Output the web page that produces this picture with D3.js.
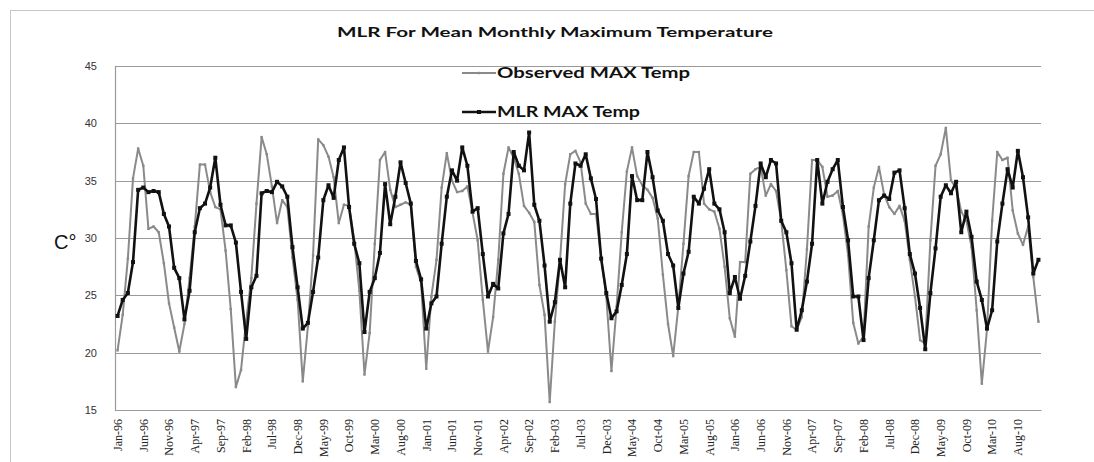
<!DOCTYPE html>
<html>
<head>
<meta charset="utf-8">
<script src="https://cdn.jsdelivr.net/npm/d3@7/dist/d3.min.js"></script>
<style>
  html, body { margin: 0; padding: 0; background: #fff; }
  svg { display: block; }
</style>
</head>
<body>
<svg id="chart" width="1094" height="462"></svg>
<script>
// Month names and two-digit years for the monthly category axis (Jan-96 .. Dec-10)
const monthNames = ["Jan","Feb","Mar","Apr","May","Jun","Jul","Aug","Sep","Oct","Nov","Dec"];
const yearCodes = ["96","97","98","99","00","01","02","03","04","05","06","07","08","09","10"];

// Observed mean monthly maximum temperature (°C)
const observedMax = [
  20.2, 23.3, 28.2, 35.2, 37.8, 36.3, 30.8, 31.0, 30.5, 27.8,
  24.3, 22.2, 20.1, 22.5, 26.5, 31.0, 36.4, 36.4, 34.0, 32.7,
  32.5, 28.9, 23.8, 17.0, 18.5, 22.8, 26.5, 33.0, 38.8, 37.3,
  34.5, 31.3, 33.3, 32.7, 28.3, 24.6, 17.5, 22.3, 28.5, 38.6,
  38.1, 37.1, 35.3, 31.3, 32.9, 32.8, 29.8, 25.4, 18.1, 21.7,
  29.5, 36.8, 37.5, 34.2, 32.7, 32.9, 33.1, 32.9, 27.5, 26.1,
  18.6, 24.9, 28.1, 34.4, 37.4, 35.0, 34.0, 34.1, 34.5, 32.2,
  29.8, 24.6, 20.1, 23.1, 28.1, 35.6, 37.9, 37.0, 35.6, 32.8,
  32.2, 31.4, 25.9, 23.3, 15.7, 22.7, 28.0, 34.7, 37.3, 37.6,
  36.6, 33.0, 32.1, 32.1, 28.3, 24.9, 18.4, 24.0, 30.5, 35.8,
  37.9, 35.4, 34.6, 34.2, 33.5, 31.7, 26.8, 22.5, 19.7, 24.0,
  29.5, 35.4, 37.5, 37.5, 33.0, 32.5, 32.3, 30.8, 27.5, 23.0,
  21.4, 27.9, 27.9, 35.6, 36.0, 36.2, 33.7, 34.7, 34.1, 31.5,
  27.2, 22.3, 22.0, 23.1, 29.0, 36.8, 36.8, 36.2, 33.6, 33.7,
  34.1, 32.0, 28.5, 22.6, 20.8, 21.4, 31.0, 34.4, 36.2, 33.8,
  32.7, 32.1, 32.8, 31.5, 28.1, 24.9, 21.1, 20.8, 29.8, 36.3,
  37.3, 39.6, 35.0, 34.4, 32.3, 31.5, 29.2, 23.7, 17.3, 22.0,
  31.5, 37.5, 36.8, 37.0, 32.4, 30.4, 29.4, 31.0, 26.6, 22.7
];

// Multiple linear regression estimate of the same quantity (°C)
const mlrMax = [
  23.2, 24.6, 25.2, 27.9, 34.2, 34.4, 34.0, 34.1, 34.0, 32.1,
  31.0, 27.4, 26.5, 22.9, 25.4, 30.5, 32.6, 33.0, 34.4, 37.0,
  32.9, 31.1, 31.1, 29.6, 25.3, 21.2, 25.7, 26.7, 33.9, 34.1,
  34.0, 34.9, 34.5, 33.6, 29.2, 25.7, 22.1, 22.6, 25.3, 28.3,
  33.3, 34.6, 33.5, 36.8, 37.9, 32.7, 29.5, 27.8, 21.8, 25.3,
  26.5, 28.7, 34.7, 31.2, 33.6, 36.6, 34.8, 33.0, 28.0, 26.4,
  22.1, 24.3, 24.9, 29.5, 33.6, 35.9, 35.0, 37.9, 36.3, 32.3,
  32.6, 28.6, 24.9, 26.0, 25.6, 30.4, 32.1, 37.5, 36.3, 35.9,
  39.2, 32.9, 31.5, 27.6, 22.7, 24.4, 28.1, 25.7, 33.0, 36.5,
  36.3, 37.3, 35.2, 33.4, 28.2, 25.2, 23.0, 23.6, 25.9, 28.6,
  35.4, 33.3, 33.3, 37.5, 35.3, 32.4, 31.5, 28.6, 27.6, 23.9,
  26.9, 28.8, 33.6, 33.0, 34.3, 36.0, 33.0, 32.5, 30.5, 25.2,
  26.6, 24.7, 26.7, 29.7, 32.8, 36.5, 35.3, 36.8, 36.5, 31.5,
  30.5, 27.8, 22.0, 23.7, 26.2, 29.5, 36.8, 33.0, 34.9, 36.0,
  36.8, 32.7, 29.8, 24.9, 24.9, 21.1, 26.5, 29.8, 33.3, 33.7,
  33.4, 35.7, 35.9, 32.6, 28.6, 26.9, 23.9, 20.3, 25.2, 29.1,
  33.6, 34.6, 33.9, 34.9, 30.5, 32.3, 30.1, 26.2, 24.6, 22.1,
  23.7, 29.7, 33.0, 36.0, 34.4, 37.6, 35.3, 31.8, 26.9, 28.1
];

// Labelled categories on the x axis (every fifth month)
const xTickLabels = [
  "Jan-96","Jun-96","Nov-96","Apr-97","Sep-97","Feb-98","Jul-98","Dec-98","May-99",
  "Oct-99","Mar-00","Aug-00","Jan-01","Jun-01","Nov-01","Apr-02","Sep-02","Feb-03",
  "Jul-03","Dec-03","May-04","Oct-04","Mar-05","Aug-05","Jan-06","Jun-06","Nov-06",
  "Apr-07","Sep-07","Feb-08","Jul-08","Dec-08","May-09","Oct-09","Mar-10","Aug-10"
];
const yTickValues = [15, 20, 25, 30, 35, 40, 45];

const seriesNames = ["Observed MAX Temp", "MLR MAX Temp"];
const titleText = "MLR For Mean Monthly Maximum Temperature";
const yTitle = "C°";

// ---- build categories ----
const categories = [];
yearCodes.forEach(y => monthNames.forEach(m => categories.push(m + "-" + y)));

const svg = d3.select("#chart");
const W = 1094, H = 462;
const plot = { left: 115, right: 1041, top: 66, bottom: 410 };

// outer chart frame
svg.append("rect")
  .attr("x", 10.5).attr("y", 10.5)
  .attr("width", W + 20).attr("height", H + 20)
  .attr("fill", "#fff").attr("stroke", "#c8c8c8").attr("stroke-width", 1);

const x = d3.scalePoint()
  .domain(categories)
  .range([plot.left, plot.right])
  .padding(0.5);

const y = d3.scaleLinear()
  .domain([15, 45])
  .range([plot.bottom, plot.top]);

// horizontal gridlines
svg.append("g")
  .selectAll("line")
  .data(yTickValues)
  .join("line")
  .attr("x1", plot.left).attr("x2", plot.right)
  .attr("y1", d => Math.round(y(d)) + 0.5).attr("y2", d => Math.round(y(d)) + 0.5)
  .attr("stroke", "#9a9a9a").attr("stroke-width", 1.2);

// y axis
const yAxis = d3.axisLeft(y).tickValues(yTickValues).tickSize(0).tickPadding(18);
const gy = svg.append("g").attr("transform", `translate(${plot.left},0)`).call(yAxis);
gy.select(".domain").attr("stroke", "#9a9a9a").attr("stroke-width", 1.2);
gy.selectAll("text")
  .attr("font-family", "Liberation Sans, Arial, sans-serif")
  .attr("font-size", 11)
  .attr("fill", "#333");

// x axis
const xAxis = d3.axisBottom(x)
  .tickValues(xTickLabels)
  .tickSize(0)
  .tickPadding(0);
const gx = svg.append("g").attr("transform", `translate(0,${plot.bottom})`).call(xAxis);
gx.select(".domain").attr("stroke", "#9a9a9a").attr("stroke-width", 1.2);
gx.selectAll("text")
  .attr("font-family", "Liberation Serif, Times New Roman, serif")
  .attr("font-size", 12)
  .attr("fill", "#222")
  .attr("text-anchor", "end")
  .attr("dy", "0.32em")
  .attr("transform", "translate(0,9) rotate(-90)")
  .attr("x", 0).attr("y", 0);

// series lines
const line = d3.line()
  .x((d, i) => x(categories[i]))
  .y(d => y(d));

const seriesDefs = [
  { name: seriesNames[0], values: observedMax, color: "#8a8a8a", width: 2, marker: 2.4 },
  { name: seriesNames[1], values: mlrMax, color: "#111111", width: 2.6, marker: 4 }
];

seriesDefs.forEach(s => {
  const g = svg.append("g");
  g.append("path")
    .datum(s.values)
    .attr("fill", "none")
    .attr("stroke", s.color)
    .attr("stroke-width", s.width)
    .attr("stroke-linejoin", "round")
    .attr("d", line);
  g.selectAll("rect")
    .data(s.values)
    .join("rect")
    .attr("x", (d, i) => x(categories[i]) - s.marker / 2)
    .attr("y", d => y(d) - s.marker / 2)
    .attr("width", s.marker).attr("height", s.marker)
    .attr("fill", s.color);
});

// title
svg.append("text")
  .attr("x", 337).attr("y", 37)
  .attr("font-family", "Lato, Open Sans, sans-serif")
  .attr("font-weight", "bold")
  .attr("font-size", 14)
  .attr("fill", "#111")
  .attr("textLength", 436)
  .attr("lengthAdjust", "spacingAndGlyphs")
  .text(titleText);

// y axis title
svg.append("text")
  .attr("x", 54).attr("y", 249)
  .attr("font-family", "Liberation Sans, Arial, sans-serif")
  .attr("font-size", 20)
  .attr("fill", "#111")
  .text(yTitle);

// legend
const legendRows = [
  { y: 73, textLen: 193 },
  { y: 112, textLen: 143 }
];
seriesDefs.forEach((s, k) => {
  const r = legendRows[k];
  const g = svg.append("g");
  g.append("line")
    .attr("x1", 462).attr("x2", 496)
    .attr("y1", r.y).attr("y2", r.y)
    .attr("stroke", s.color).attr("stroke-width", s.width);
  g.append("rect")
    .attr("x", 479 - s.marker / 2).attr("y", r.y - s.marker / 2)
    .attr("width", s.marker).attr("height", s.marker)
    .attr("fill", s.color);
  g.append("text")
    .attr("x", 497).attr("y", r.y + 5)
    .attr("font-family", "Lato, Open Sans, sans-serif")
    .attr("font-weight", "bold")
    .attr("font-size", 15)
    .attr("fill", "#111")
    .attr("textLength", r.textLen)
    .attr("lengthAdjust", "spacingAndGlyphs")
    .text(s.name);
});
</script>
</body>
</html>
